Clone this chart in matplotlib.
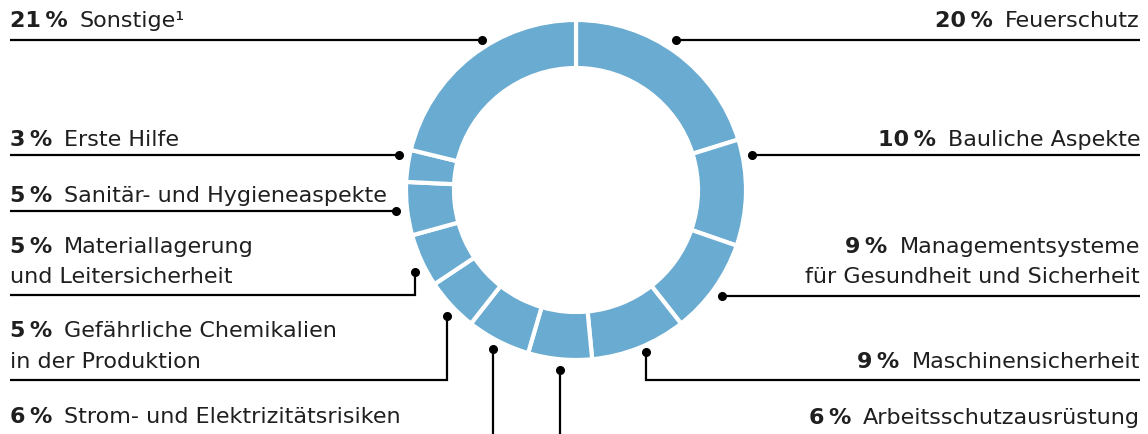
import matplotlib
matplotlib.use("Agg")
import matplotlib.pyplot as plt

W, H = 1148, 434
categories = ["Feuerschutz", "Bauliche Aspekte",
              "Managementsysteme\nfür Gesundheit und Sicherheit",
              "Maschinensicherheit", "Arbeitsschutzausrüstung",
              "Strom- und Elektrizitätsrisiken",
              "Gefährliche Chemikalien\nin der Produktion",
              "Materiallagerung\nund Leitersicherheit",
              "Sanitär- und Hygieneaspekte", "Erste Hilfe", "Sonstige¹"]
values = [20, 10, 9, 9, 6, 6, 5, 5, 5, 3, 21]
pct_labels = [f"{v}\u2009%" for v in values]

COLOR = "#6aabd1"
TXT = "#1f1f1f"
FS = 16
FONT = "DejaVu Sans"

fig = plt.figure(figsize=(W / 100, H / 100), dpi=100)
ax = fig.add_axes([0, 0, 1, 1])
ax.set_xlim(0, W)
ax.set_ylim(0, H)
ax.axis("off")

def Y(py):
    return H - py

cx, cy, R = 576, 190, 170
ax.pie(values, startangle=90, counterclock=False, center=(cx, Y(cy)), radius=R,
       colors=[COLOR] * len(values),
       wedgeprops=dict(width=48, edgecolor="white", linewidth=3))
ax.set_xlim(0, W)
ax.set_ylim(0, H)
ax.set_aspect("equal")

fig.canvas.draw()
renderer = fig.canvas.get_renderer()

layout = {
    "Feuerschutz": ("R", [27], [(676, 40), (1140, 40)]),
    "Bauliche Aspekte": ("R", [146], [(752, 155), (1140, 155)]),
    "Managementsysteme\nfür Gesundheit und Sicherheit": ("R", [253, 283], [(722, 296), (1140, 296)]),
    "Maschinensicherheit": ("R", [368], [(646, 352), (646, 380), (1140, 380)]),
    "Arbeitsschutzausrüstung": ("R", [424], [(560, 370), (560, 440)]),
    "Strom- und Elektrizitätsrisiken": ("L", [423], [(493, 349), (493, 440)]),
    "Gefährliche Chemikalien\nin der Produktion": ("L", [337, 368], [(447, 316), (447, 380), (10, 380)]),
    "Materiallagerung\nund Leitersicherheit": ("L", [253, 283], [(415, 272), (415, 295), (10, 295)]),
    "Sanitär- und Hygieneaspekte": ("L", [202], [(396, 211), (10, 211)]),
    "Erste Hilfe": ("L", [146], [(399, 155), (10, 155)]),
    "Sonstige¹": ("L", [27], [(482, 40), (10, 40)]),
}

GAP = 12

def width_of(t):
    return t.get_window_extent(renderer=renderer).width

for cat, pct in zip(categories, pct_labels):
    side, baselines, path = layout[cat]
    lines = cat.split("\n")
    if side == "L":
        tp = ax.text(10, Y(baselines[0]), pct, fontsize=FS, fontweight="bold", family=FONT,
                     color=TXT, ha="left", va="baseline")
        wp = width_of(tp)
        ax.text(10 + wp + GAP, Y(baselines[0]), lines[0], fontsize=FS, family=FONT,
                color=TXT, ha="left", va="baseline")
        for ln, b in zip(lines[1:], baselines[1:]):
            ax.text(10, Y(b), ln, fontsize=FS, family=FONT, color=TXT, ha="left", va="baseline")
    else:
        tl = ax.text(1140, Y(baselines[0]), lines[0], fontsize=FS, family=FONT,
                     color=TXT, ha="right", va="baseline")
        wl = width_of(tl)
        ax.text(1140 - wl - GAP, Y(baselines[0]), pct, fontsize=FS, fontweight="bold", family=FONT,
                color=TXT, ha="right", va="baseline")
        for ln, b in zip(lines[1:], baselines[1:]):
            ax.text(1140, Y(b), ln, fontsize=FS, family=FONT, color=TXT, ha="right", va="baseline")
    xs = [p[0] for p in path]
    ys = [Y(p[1]) for p in path]
    ax.plot(xs, ys, color="black", lw=1.6, solid_capstyle="butt", solid_joinstyle="miter")
    ax.plot([xs[0]], [ys[0]], "o", color="black", ms=5.5)

fig.savefig("out.png", dpi=100)
